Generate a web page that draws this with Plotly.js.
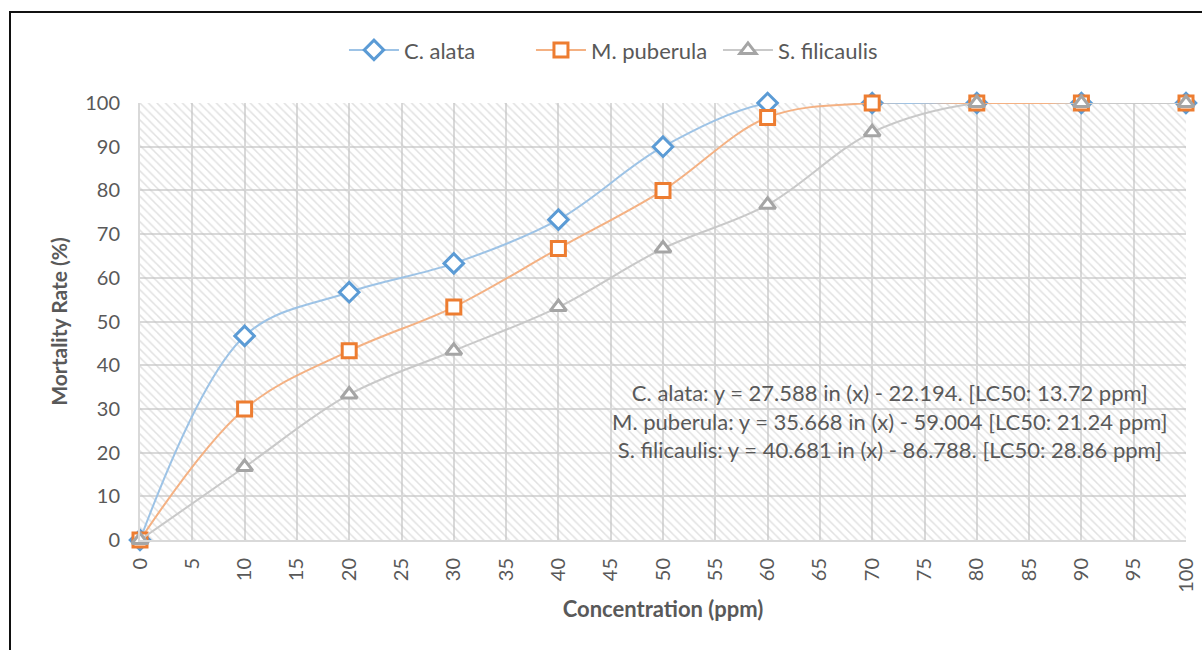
<!DOCTYPE html>
<html>
<head>
<meta charset="utf-8">
<script src="https://cdn.plot.ly/plotly-3.0.1.min.js"></script>
<style>
  html, body { margin: 0; padding: 0; background: #fff; }
  #wrap { position: relative; width: 1202px; height: 650px; overflow: hidden; }
  #chart { width: 1202px; height: 650px; }
  #frame { position: absolute; left: 9px; top: 11px; right: -5px; bottom: -5px;
           border-left: 2px solid #111; border-top: 2px solid #111; pointer-events: none; }
</style>
</head>
<body>
<div id="wrap">
  <div id="chart"></div>
  <div id="frame"></div>
</div>
<script>
const concentration = [0, 10, 20, 30, 40, 50, 60, 70, 80, 90, 100];
const cAlata       = [0, 46.7, 56.7, 63.3, 73.3, 90, 100, 100, 100, 100, 100];
const mPuberula    = [0, 30, 43.3, 53.3, 66.7, 80, 96.7, 100, 100, 100, 100];
const sFilicaulis  = [0, 16.7, 33.3, 43.3, 53.3, 66.7, 76.7, 93.3, 100, 100, 100];
const seriesNames  = ['C. alata', 'M. puberula', 'S. filicaulis'];
const xTicks = [0,5,10,15,20,25,30,35,40,45,50,55,60,65,70,75,80,85,90,95,100];
const yTicks = [0,10,20,30,40,50,60,70,80,90,100];
const xRange = [0, 100];
const yRange = [0, 100];
const noteLines = [
  'C. alata: y = 27.588 in (x) - 22.194. [LC50: 13.72 ppm]',
  'M. puberula: y = 35.668 in (x) - 59.004 [LC50: 21.24 ppm]',
  'S. filicaulis: y = 40.681 in (x) - 86.788. [LC50: 28.86 ppm]'
];

const FONT = 'Lato, "Open Sans", sans-serif';
const TXT = '#595959';

const hatch = {
  x: [xRange[0], xRange[1], xRange[1], xRange[0], xRange[0]],
  y: [yRange[0], yRange[0], yRange[1], yRange[1], yRange[0]],
  type: 'scatter', mode: 'lines', fill: 'toself',
  fillcolor: 'rgba(0,0,0,0)',
  fillpattern: { shape: '\\', fgcolor: '#c4c4c4', bgcolor: 'rgba(0,0,0,0)', size: 6, solidity: 0.25, fillmode: 'overlay' },
  line: { width: 0 }, hoverinfo: 'skip', showlegend: false
};

function series(name, y, lineColor, markColor, symbol, size) {
  return {
    x: concentration, y: y, name: name, type: 'scatter', mode: 'lines+markers',
    line: { color: lineColor, width: 2, shape: 'spline', smoothing: 1 },
    marker: { symbol: symbol, size: size, color: '#ffffff', line: { color: markColor, width: 3 } },
    cliponaxis: false
  };
}

const data = [
  hatch,
  series(seriesNames[0], cAlata, '#9DC3E6', '#5B9BD5', 'diamond', 15),
  series(seriesNames[1], mPuberula, '#F4B183', '#ED7D31', 'square', 14),
  series(seriesNames[2], sFilicaulis, '#C9C9C9', '#A5A5A5', 'triangle-up', 14)
];

const layout = {
  width: 1202, height: 650,
  margin: { l: 140, r: 16, t: 103, b: 110 },
  paper_bgcolor: 'rgba(0,0,0,0)', plot_bgcolor: '#ffffff',
  font: { family: FONT, color: TXT, size: 20 },
  showlegend: true,
  legend: { orientation: 'h', x: 0.195, xanchor: 'left', y: 1.121, yanchor: 'middle',
            font: { size: 22, color: TXT }, bgcolor: 'rgba(0,0,0,0)', itemwidth: 50,
            entrywidth: 122, entrywidthmode: 'pixels' },
  xaxis: {
    range: xRange, tickvals: xTicks, ticktext: xTicks.map(String), tickangle: -90,
    showgrid: true, gridcolor: '#d9d9d9', gridwidth: 2,
    zeroline: false, showline: true, linecolor: '#d9d9d9', linewidth: 2,
    ticks: '', ticklabelstandoff: 8, tickfont: { size: 20, color: TXT },
    title: { text: '<b>Concentration (ppm)</b>', font: { size: 22, color: TXT }, standoff: 10 },
    fixedrange: true
  },
  yaxis: {
    range: yRange, tickvals: yTicks, ticktext: yTicks.map(String),
    showgrid: true, gridcolor: '#d9d9d9', gridwidth: 2,
    zeroline: false, showline: true, linecolor: '#d9d9d9', linewidth: 2,
    ticks: '', ticklabelstandoff: 14, tickfont: { size: 20, color: TXT },
    title: { text: '<b>Mortality Rate (%)</b>', font: { size: 21, color: TXT }, standoff: 12 },
    fixedrange: true
  },
  annotations: [{
    xref: 'x', yref: 'y', x: 71.7, y: 27.2, xanchor: 'center', yanchor: 'middle',
    text: noteLines.join('<br>'), showarrow: false, align: 'center',
    font: { size: 22, color: TXT, family: FONT }
  }]
};

Plotly.newPlot('chart', data, layout, { displayModeBar: false, staticPlot: true });
</script>
</body>
</html>
